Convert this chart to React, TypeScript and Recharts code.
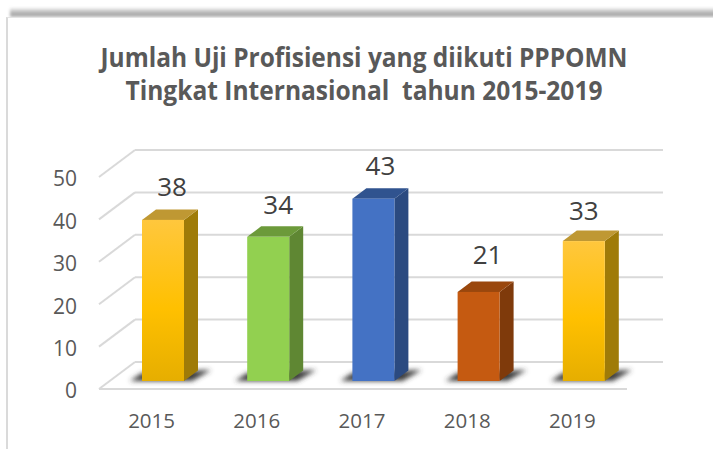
import { Bar, BarChart, CartesianGrid, Cell, LabelList, XAxis, YAxis } from "recharts";

const years = ["2015", "2016", "2017", "2018", "2019"];
const counts = [38, 34, 43, 21, 33];
const yTicks = [0, 10, 20, 30, 40, 50];
const titleLines = [
  "Jumlah Uji Profisiensi yang diikuti PPPOMN",
  "Tingkat Internasional  tahun 2015-2019",
];

// front face, side face, top face
const palette = [
  { id: "gold", side: "#9f7b08", top: "#bf9833" },
  { id: "green", side: "#5f8733", top: "#6c9a3a" },
  { id: "blue", side: "#2b4a80", top: "#30538f" },
  { id: "orange", side: "#7f3a0b", top: "#9a470d" },
  { id: "gold", side: "#9f7b08", top: "#bf9833" },
];

const data = years.map((year, i) => ({ year, count: counts[i] }));

// fake 3d offsets
const DEPTH_X = 14;
const DEPTH_Y = 10.5;
const WALL_X = 36;
const WALL_Y = 27;
const BAR_DX = 11;
const BAR_DY = -8;
const labelNudge = [
  [-2, 0],
  [-1, 1],
  [-4, 0],
  [-2, -4],
  [-11, 3],
];

function Bar3D(props: any) {
  const { x, y, width, height, index } = props;
  const c = palette[index];
  const l = x + BAR_DX;
  const t = y + BAR_DY;
  const b = t + height;
  const r = l + width;
  return (
    <g>
      <polygon
        points={`${l - 12},${b} ${l},${b - 8} ${r + 27},${b - 11} ${r + 8},${b}`}
        fill="#3a3a3a"
        filter="url(#floorBlur)"
      />
      <polygon
        points={`${r},${t} ${r + DEPTH_X},${t - DEPTH_Y} ${r + DEPTH_X},${b - DEPTH_Y} ${r},${b}`}
        fill={c.side}
      />
      <polygon
        points={`${l},${t} ${l + DEPTH_X},${t - DEPTH_Y} ${r + DEPTH_X},${t - DEPTH_Y} ${r},${t}`}
        fill={c.top}
      />
      <rect x={l} y={t} width={width} height={height} fill={`url(#${c.id})`} />
    </g>
  );
}

function GridLine3D(props: any) {
  const { x1, x2, y1, index } = props;
  return (
    <g key={index} stroke="#d9d9d9" strokeWidth={2} fill="none">
      <line x1={x1} y1={y1} x2={x1 + WALL_X} y2={y1 - WALL_Y} />
      <line x1={x1 + WALL_X} y1={y1 - WALL_Y} x2={x2 + WALL_X + 2} y2={y1 - WALL_Y} />
      {y1 > 380 && <line x1={x1} y1={y1} x2={x2 + 2} y2={y1} />}
    </g>
  );
}

function ValueLabel(props: any) {
  const { x, y, width, value, index } = props;
  const [dx, dy] = labelNudge[index];
  return (
    <text
      x={x + width / 2 + BAR_DX + 11 + dx}
      y={y + BAR_DY - 24 + dy}
      textAnchor="middle"
      fontSize={26}
      fill="#404040"
    >
      {value}
    </text>
  );
}

export default function App() {
  return (
    <div
      style={{
        position: "absolute",
        left: 0,
        top: 0,
        width: 713,
        height: 449,
        background: "#fff",
        overflow: "hidden",
        fontFamily: "'Open Sans', sans-serif",
      }}
    >
      <div
        style={{
          position: "absolute",
          left: 10,
          top: 8,
          width: 720,
          height: 9,
          background: "linear-gradient(#f0f0f0, #a8a8a8 65%, #b4b4b4)",
          filter: "blur(1.5px)",
        }}
      />
      <div
        style={{
          position: "absolute",
          left: 6,
          top: 17,
          width: 720,
          height: 440,
          background: "#fff",
          borderLeft: "2px solid #dadada",
          borderTop: "1px solid #e4e4e4",
          boxSizing: "border-box",
        }}
      />
      <div style={{ position: "absolute", left: 0, top: 0 }}>
        <BarChart
          width={713}
          height={449}
          data={data}
          margin={{ top: 177, right: 88, left: 0, bottom: 0 }}
        >
          <defs>
            <linearGradient id="gold" x1="0" y1="0" x2="0" y2="1">
              <stop offset="0" stopColor="#ffc73d" />
              <stop offset="0.55" stopColor="#ffc000" />
              <stop offset="1" stopColor="#e6ae00" />
            </linearGradient>
            <linearGradient id="green" x1="0" y1="0" x2="0" y2="1">
              <stop offset="0" stopColor="#92d050" />
              <stop offset="1" stopColor="#92d050" />
            </linearGradient>
            <linearGradient id="blue" x1="0" y1="0" x2="0" y2="1">
              <stop offset="0" stopColor="#4472c4" />
              <stop offset="1" stopColor="#4472c4" />
            </linearGradient>
            <linearGradient id="orange" x1="0" y1="0" x2="0" y2="1">
              <stop offset="0" stopColor="#c55a11" />
              <stop offset="1" stopColor="#c55a11" />
            </linearGradient>
            <filter id="floorBlur" x="-20%" y="-50%" width="140%" height="200%">
              <feGaussianBlur stdDeviation="2.5" />
            </filter>
          </defs>
          {titleLines.map((line, i) => (
            <text
              key={i}
              x={364}
              y={67 + i * 33}
              textAnchor="middle"
              fontSize={26}
              fontWeight={700}
              fill="#595959"
              textLength={i === 0 ? 527 : 477}
              lengthAdjust="spacingAndGlyphs"
              style={{ whiteSpace: "pre" }}
            >
              {line}
            </text>
          ))}
          <CartesianGrid vertical={false} horizontal={(p: any) => <GridLine3D {...p} />} />
          <XAxis
            dataKey="year"
            axisLine={false}
            tickLine={false}
            height={60}
            tickMargin={18}
            tick={{ fontSize: 20.5, fill: "#595959" }}
          />
          <YAxis
            domain={[0, 50]}
            ticks={yTicks}
            width={99}
            axisLine={false}
            tickLine={false}
            tickMargin={16}
            tick={{ fontSize: 21, fill: "#595959", dy: 2 }}
          />
          <Bar dataKey="count" barSize={42} shape={<Bar3D />} isAnimationActive={false}>
            {data.map((d) => (
              <Cell key={d.year} />
            ))}
            <LabelList dataKey="count" content={<ValueLabel />} />
          </Bar>
        </BarChart>
      </div>
    </div>
  );
}
